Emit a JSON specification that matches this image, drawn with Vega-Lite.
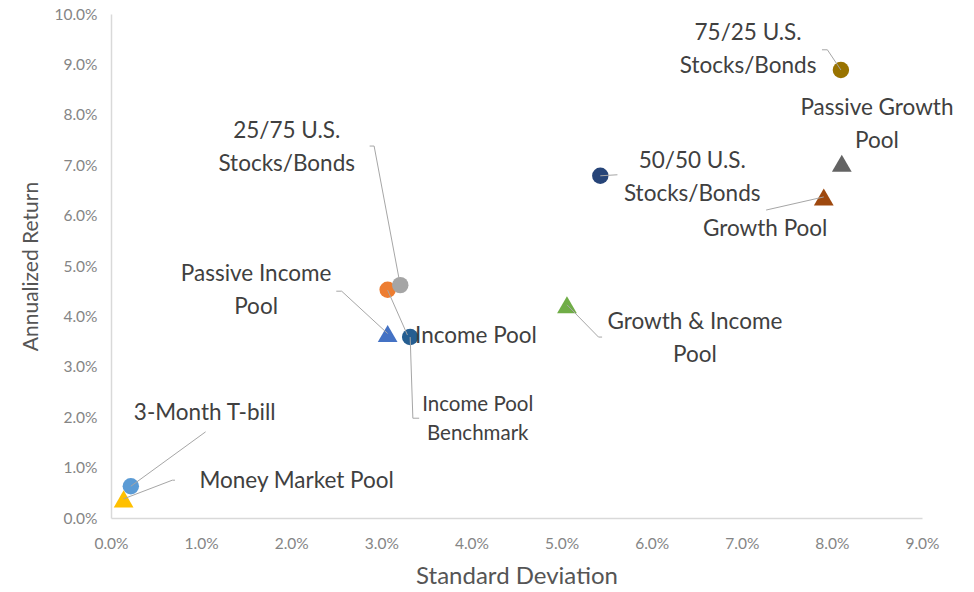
{
  "$schema": "https://vega.github.io/schema/vega-lite/v6.json",
  "width": 811,
  "height": 504,
  "autosize": {"type": "none"},
  "padding": {"left": 111, "top": 14, "right": 52, "bottom": 74},
  "background": "white",
  "config": {
    "view": {"stroke": null},
    "font": "Lato",
    "axis": {
      "grid": false,
      "ticks": false,
      "labelFlush": false,
      "domainColor": "#d9d9d9",
      "domainWidth": 1.5,
      "labelFont": "Lato",
      "labelFontSize": 15.5,
      "labelFontWeight": "normal",
      "labelColor": "#858585",
      "titleFont": "Lato",
      "titleColor": "#555555",
      "titleFontWeight": "normal"
    }
  },
  "datasets": {
    "points": [
      {"name": "75/25 U.S. Stocks/Bonds", "sd": 0.0810, "ret": 0.0889, "shape": "circle", "series": "a"},
      {"name": "Passive Growth Pool", "sd": 0.0811, "ret": 0.0704, "shape": "triangle-up", "series": "b"},
      {"name": "Growth Pool", "sd": 0.0791, "ret": 0.0637, "shape": "triangle-up", "series": "c"},
      {"name": "50/50 U.S. Stocks/Bonds", "sd": 0.0543, "ret": 0.0679, "shape": "circle", "series": "d"},
      {"name": "Income Pool", "sd": 0.0307, "ret": 0.0453, "shape": "circle", "series": "e"},
      {"name": "25/75 U.S. Stocks/Bonds", "sd": 0.0321, "ret": 0.0462, "shape": "circle", "series": "f"},
      {"name": "Passive Income Pool", "sd": 0.0307, "ret": 0.0366, "shape": "triangle-up", "series": "g"},
      {"name": "Income Pool Benchmark", "sd": 0.0332, "ret": 0.0359, "shape": "circle", "series": "h"},
      {"name": "Growth & Income Pool", "sd": 0.0506, "ret": 0.0423, "shape": "triangle-up", "series": "i"},
      {"name": "3-Month T-bill", "sd": 0.0022, "ret": 0.0063, "shape": "circle", "series": "j"},
      {"name": "Money Market Pool", "sd": 0.0014, "ret": 0.0038, "shape": "triangle-up", "series": "k"}
    ],
    "labels": [
      {"text": "75/25 U.S.\nStocks/Bonds", "lx": 0.0707, "ly": 0.0962, "small": false},
      {"text": "Passive Growth\nPool", "lx": 0.0850, "ly": 0.0813, "small": false},
      {"text": "50/50 U.S.\nStocks/Bonds", "lx": 0.0645, "ly": 0.0708, "small": false},
      {"text": "Growth Pool", "lx": 0.0726, "ly": 0.0573, "small": false},
      {"text": "25/75 U.S.\nStocks/Bonds", "lx": 0.0195, "ly": 0.0768, "small": false},
      {"text": "Passive Income\nPool", "lx": 0.0161, "ly": 0.0484, "small": false},
      {"text": "Income Pool", "lx": 0.0405, "ly": 0.0361, "small": false},
      {"text": "Growth & Income\nPool", "lx": 0.0648, "ly": 0.0389, "small": false},
      {"text": "Income Pool\nBenchmark", "lx": 0.0407, "ly": 0.0224, "small": true},
      {"text": "3-Month T-bill", "lx": 0.0104, "ly": 0.0208, "small": false},
      {"text": "Money Market Pool", "lx": 0.0206, "ly": 0.0073, "small": false}
    ],
    "leaders": [
      {"x1": 0.0810, "y1": 0.0889, "x2": 0.0795, "y2": 0.0929},
      {"x1": 0.0795, "y1": 0.0929, "x2": 0.0789, "y2": 0.0929},
      {"x1": 0.0543, "y1": 0.0679, "x2": 0.0562, "y2": 0.0681},
      {"x1": 0.0791, "y1": 0.0637, "x2": 0.0727, "y2": 0.0611},
      {"x1": 0.0321, "y1": 0.0462, "x2": 0.0292, "y2": 0.0738},
      {"x1": 0.0292, "y1": 0.0738, "x2": 0.0287, "y2": 0.0738},
      {"x1": 0.0307, "y1": 0.0366, "x2": 0.0256, "y2": 0.0450},
      {"x1": 0.0256, "y1": 0.0450, "x2": 0.0250, "y2": 0.0450},
      {"x1": 0.0307, "y1": 0.0452, "x2": 0.0329, "y2": 0.0363},
      {"x1": 0.0506, "y1": 0.0423, "x2": 0.0541, "y2": 0.0359},
      {"x1": 0.0541, "y1": 0.0359, "x2": 0.0545, "y2": 0.0359},
      {"x1": 0.0332, "y1": 0.0359, "x2": 0.0335, "y2": 0.0198},
      {"x1": 0.0335, "y1": 0.0198, "x2": 0.0342, "y2": 0.0198},
      {"x1": 0.0022, "y1": 0.0063, "x2": 0.0105, "y2": 0.0171},
      {"x1": 0.0014, "y1": 0.0038, "x2": 0.0068, "y2": 0.0075},
      {"x1": 0.0068, "y1": 0.0075, "x2": 0.0071, "y2": 0.0075}
    ]
  },
  "layer": [
    {
      "data": {"name": "points"},
      "mark": {"type": "point", "filled": true, "opacity": 1},
      "encoding": {
        "x": {
          "field": "sd", "type": "quantitative",
          "scale": {"domain": [0, 0.09], "nice": false, "zero": true},
          "axis": {"format": ".1%", "values": [0, 0.01, 0.02, 0.03, 0.04, 0.05, 0.06, 0.07, 0.08, 0.09], "labelPadding": 18, "title": "Standard Deviation", "titleFontSize": 24, "titlePadding": 13}
        },
        "y": {
          "field": "ret", "type": "quantitative",
          "scale": {"domain": [0, 0.10], "nice": false},
          "axis": {"format": ".1%", "values": [0, 0.01, 0.02, 0.03, 0.04, 0.05, 0.06, 0.07, 0.08, 0.09, 0.1], "labelPadding": 14, "title": "Annualized Return", "titleFontSize": 21, "titlePadding": 12}
        },
        "shape": {
          "field": "shape", "type": "nominal", "legend": null,
          "scale": {"domain": ["circle", "triangle-up"], "range": ["circle", "triangle-up"]}
        },
        "size": {
          "field": "shape", "type": "nominal", "legend": null,
          "scale": {"domain": ["circle", "triangle-up"], "range": [270, 390]}
        },
        "color": {
          "field": "series", "type": "nominal", "legend": null,
          "scale": {
            "domain": ["a", "b", "c", "d", "e", "f", "g", "h", "i", "j", "k"],
            "range": ["#997300", "#636363", "#9E480E", "#264478", "#ED7D31", "#A5A5A5", "#4472C4", "#255E91", "#70AD47", "#5B9BD5", "#FFC000"]
          }
        }
      }
    },
    {
      "data": {"name": "leaders"},
      "mark": {"type": "rule", "color": "#a6a6a6", "strokeWidth": 1},
      "encoding": {
        "x": {"field": "x1", "type": "quantitative"},
        "y": {"field": "y1", "type": "quantitative"},
        "x2": {"field": "x2"},
        "y2": {"field": "y2"}
      }
    },
    {
      "data": {"name": "labels"},
      "transform": [{"filter": "!datum.small"}],
      "mark": {"type": "text", "align": "center", "baseline": "middle", "fontSize": 22.5, "lineHeight": 33, "color": "#404040", "lineBreak": "\n"},
      "encoding": {
        "x": {"field": "lx", "type": "quantitative"},
        "y": {"field": "ly", "type": "quantitative"},
        "text": {"field": "text"}
      }
    },
    {
      "data": {"name": "labels"},
      "transform": [{"filter": "datum.small"}],
      "mark": {"type": "text", "align": "center", "baseline": "middle", "fontSize": 20.5, "lineHeight": 29, "color": "#404040", "lineBreak": "\n"},
      "encoding": {
        "x": {"field": "lx", "type": "quantitative"},
        "y": {"field": "ly", "type": "quantitative"},
        "text": {"field": "text"}
      }
    }
  ]
}
